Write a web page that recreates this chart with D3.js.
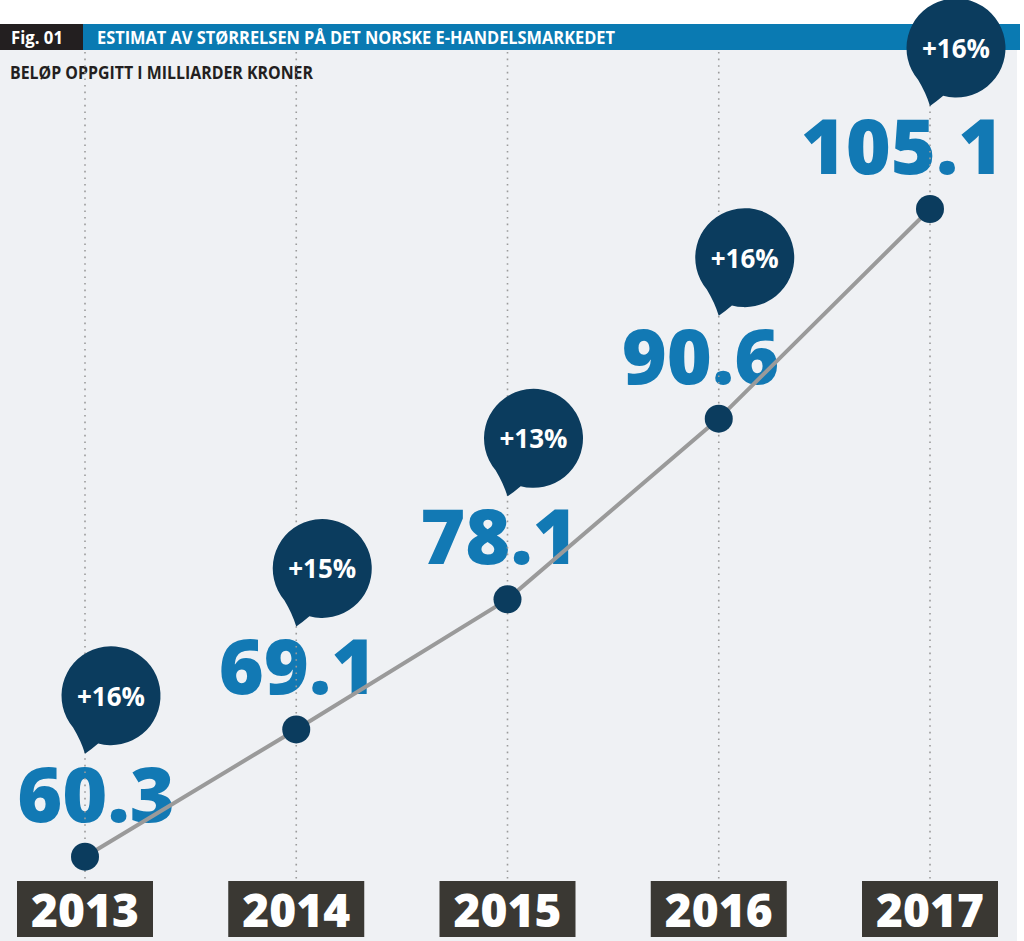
<!DOCTYPE html>
<html>
<head>
<meta charset="utf-8">
<script src="https://cdn.jsdelivr.net/npm/d3@7"></script>
<style>
  html, body { margin: 0; padding: 0; background: #ffffff; }
  svg { display: block; font-family: "Open Sans", "Noto Sans", sans-serif; }
</style>
</head>
<body>
<svg id="chart" width="1024" height="941"></svg>
<script>
// ---- data ----
const years = ["2013", "2014", "2015", "2016", "2017"];
const values = [60.3, 69.1, 78.1, 90.6, 105.1];
const valueLabels = ["60.3", "69.1", "78.1", "90.6", "105.1"];
const growthLabels = ["+16%", "+15%", "+13%", "+16%", "+16%"];
const figLabel = "Fig. 01";
const title = "ESTIMAT AV STØRRELSEN PÅ DET NORSKE E-HANDELSMARKEDET";
const subtitle = "BELØP OPPGITT I MILLIARDER KRONER";

// ---- colours ----
const C = {
  bg: "#eff1f4",
  headerBlue: "#0a7ab2",
  black: "#231f20",
  navy: "#0b3c5e",
  valueBlue: "#1279b4",
  line: "#9a9a9a",
  dotted: "#9b9b9b",
  yearBox: "#3a3833"
};

const svg = d3.select("#chart");

// scales
const x = d3.scalePoint().domain(years).range([85, 930]);
const xLabel = d3.scalePoint().domain(years).range([96, 902]);
const y = d3.scaleLinear().domain([60, 106]).range([861, 196]);

const data = years.map((yr, i) => ({
  year: yr, value: values[i], label: valueLabels[i], growth: growthLabels[i]
}));

// background
svg.append("rect").attr("x", 0).attr("y", 50).attr("width", 1017).attr("height", 891).attr("fill", C.bg);

// header
svg.append("rect").attr("x", 83).attr("y", 24).attr("width", 937).attr("height", 26).attr("fill", C.headerBlue);
svg.append("rect").attr("x", 0).attr("y", 24).attr("width", 83).attr("height", 26).attr("fill", C.black);
svg.append("text").attr("x", 11).attr("y", 44).attr("fill", "#fff")
  .attr("font-size", 18).attr("font-weight", 700).attr("textLength", 52).attr("lengthAdjust", "spacingAndGlyphs")
  .text(figLabel);
svg.append("text").attr("x", 97).attr("y", 44).attr("fill", "#fff")
  .attr("font-size", 18).attr("font-weight", 700).attr("textLength", 518).attr("lengthAdjust", "spacingAndGlyphs")
  .text(title);
svg.append("text").attr("x", 10).attr("y", 79).attr("fill", C.black)
  .attr("font-size", 18).attr("font-weight", 700).attr("textLength", 303).attr("lengthAdjust", "spacingAndGlyphs")
  .text(subtitle);

// value labels
svg.append("g").selectAll("text").data(data).join("text")
  .attr("x", d => xLabel(d.year))
  .attr("y", d => y(d.value) - 35)
  .attr("text-anchor", "middle")
  .attr("fill", C.valueBlue)
  .attr("font-size", 77)
  .attr("font-weight", 800)
  .text(d => d.label);

// dotted guide lines
svg.append("g").selectAll("line").data(data).join("line")
  .attr("x1", d => x(d.year)).attr("x2", d => x(d.year))
  .attr("y1", 52).attr("y2", 881)
  .attr("stroke", C.dotted).attr("stroke-width", 1.6)
  .attr("stroke-dasharray", "1.6 5");

// line
svg.append("path").datum(data)
  .attr("d", d3.line().x(d => x(d.year)).y(d => y(d.value)))
  .attr("fill", "none").attr("stroke", C.line).attr("stroke-width", 4);

// dots
svg.append("g").selectAll("circle").data(data).join("circle")
  .attr("cx", d => x(d.year)).attr("cy", d => y(d.value)).attr("r", 14)
  .attr("fill", C.navy);

// year boxes
const yb = svg.append("g").selectAll("g").data(data).join("g")
  .attr("transform", d => `translate(${x(d.year)},0)`);
yb.append("rect").attr("x", -68).attr("y", 881).attr("width", 136).attr("height", 56).attr("fill", C.yearBox);
yb.append("text").attr("x", 0).attr("y", 927).attr("text-anchor", "middle")
  .attr("fill", "#fff").attr("font-size", 46).attr("font-weight", 800)
  .text(d => d.year);

// speech bubbles
const R = 49.5;
function bubblePath() {
  const a1 = 105 * Math.PI / 180, a2 = 140 * Math.PI / 180;
  const p1 = [R * Math.cos(a1), R * Math.sin(a1)];
  const p2 = [R * Math.cos(a2), R * Math.sin(a2)];
  const tip = [-26, 58];
  const p = d3.path();
  p.moveTo(p1[0], p1[1]);
  p.quadraticCurveTo(-20, 54, tip[0], tip[1]);
  p.quadraticCurveTo(-30, 45, p2[0], p2[1]);
  p.arc(0, 0, R, a2, a1 + 2 * Math.PI, false);
  p.closePath();
  return p.toString();
}
const bub = svg.append("g").selectAll("g").data(data).join("g")
  .attr("transform", d => `translate(${x(d.year) + 26},${y(d.value) - 161})`);
bub.append("path").attr("d", bubblePath()).attr("fill", C.navy);
bub.append("text").attr("x", 0).attr("y", 10).attr("text-anchor", "middle")
  .attr("fill", "#fff").attr("font-size", 26).attr("font-weight", 700)
  .text(d => d.growth);
</script>
</body>
</html>
